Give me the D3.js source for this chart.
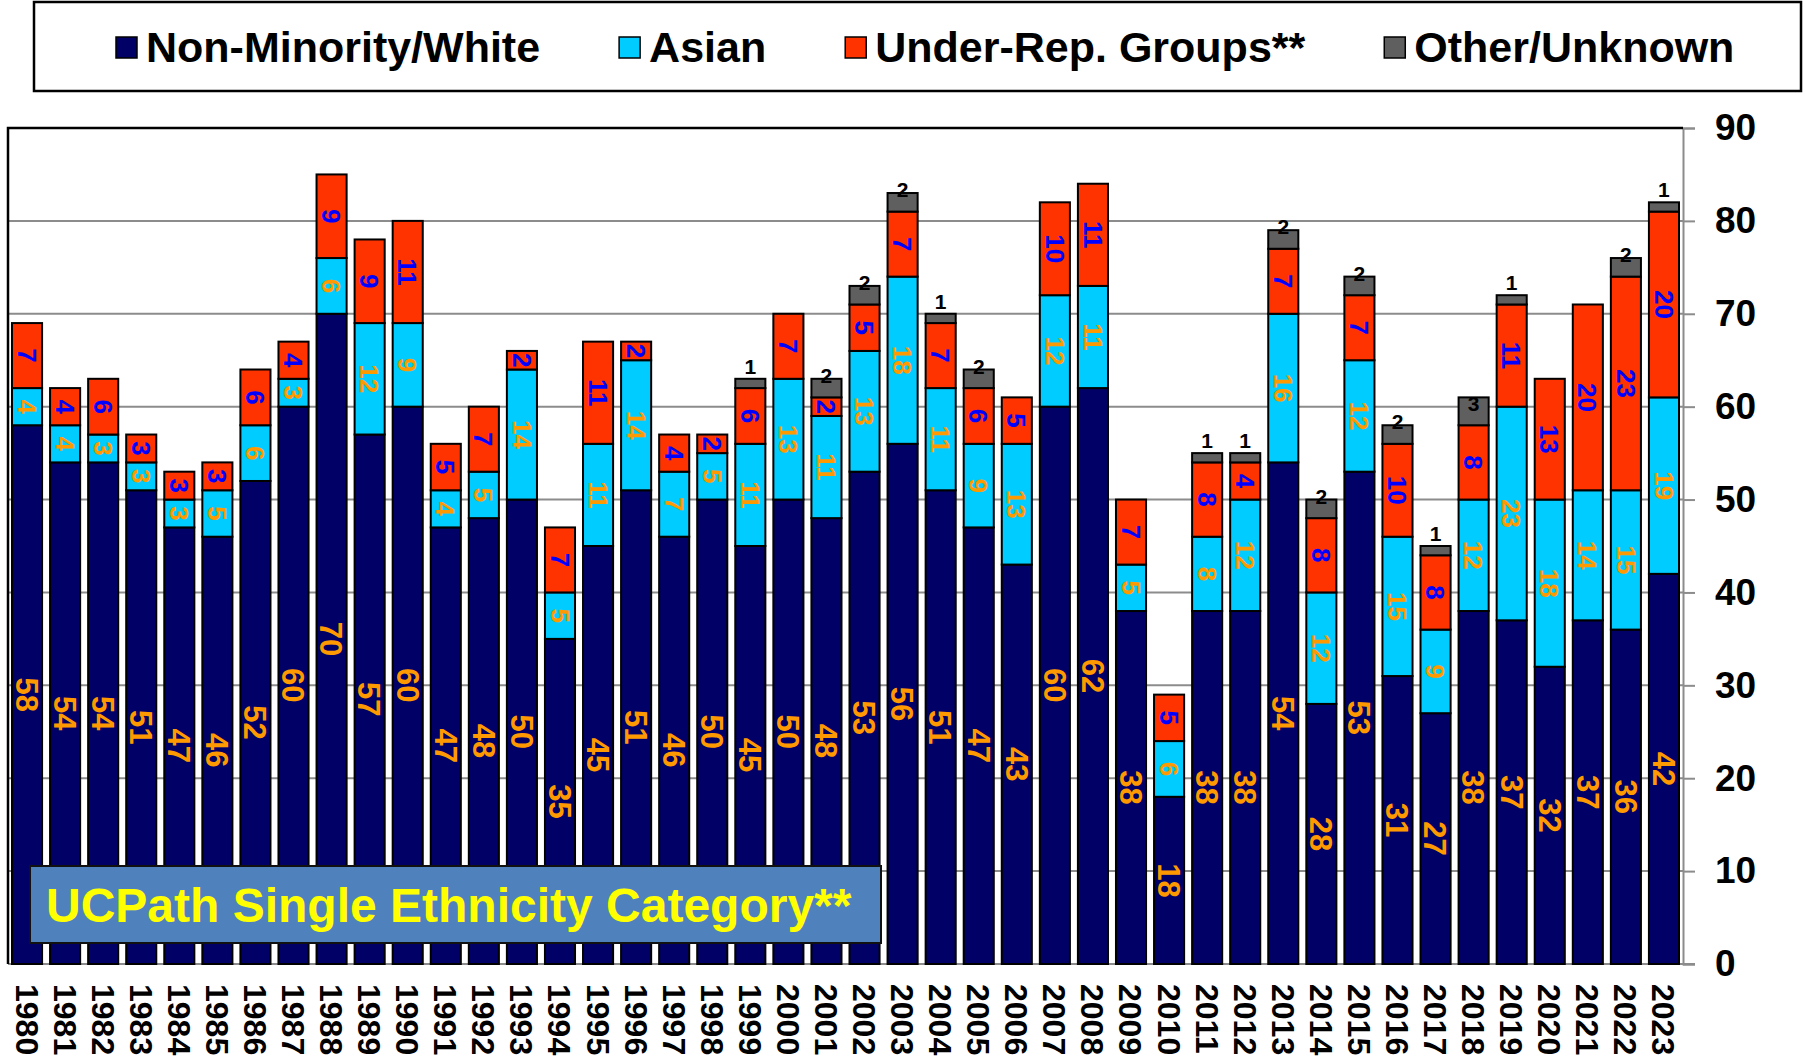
<!DOCTYPE html>
<html>
<head>
<meta charset="utf-8">
<title>UCPath Single Ethnicity Category</title>
<script src="https://cdn.jsdelivr.net/npm/d3@7"></script>
<style>
	body { margin: 0; background: #fff; }
	svg { display: block; font-family: "Liberation Sans", Arial, sans-serif; font-weight: bold; }
</style>
</head>
<body>
<svg id="chart" width="1806" height="1063"></svg>
<script>
// --- DATA --- //
var years = ["1980","1981","1982","1983","1984","1985","1986","1987","1988","1989",
	"1990","1991","1992","1993","1994","1995","1996","1997","1998","1999",
	"2000","2001","2002","2003","2004","2005","2006","2007","2008","2009",
	"2010","2011","2012","2013","2014","2015","2016","2017","2018","2019",
	"2020","2021","2022","2023"];

var white = [58,54,54,51,47,46,52,60,70,57, 60,47,48,50,35,45,51,46,50,45,
	50,48,53,56,51,47,43,60,62,38, 18,38,38,54,28,53,31,27,38,37, 32,37,36,42];
var asian = [4,4,3,3,3,5,6,3,6,12, 9,4,5,14,5,11,14,7,5,11,
	13,11,13,18,11,9,13,12,11,5, 6,8,12,16,12,12,15,9,12,23, 18,14,15,19];
var urg = [7,4,6,3,3,3,6,4,9,9, 11,5,7,2,7,11,2,4,2,6,
	7,2,5,7,7,6,5,10,11,7, 5,8,4,7,8,7,10,8,8,11, 13,20,23,20];
var other = [0,0,0,0,0,0,0,0,0,0, 0,0,0,0,0,0,0,0,0,1,
	0,2,2,2,1,2,0,0,0,0, 0,1,1,2,2,2,2,1,3,1, 0,0,2,1];

var seriesNames = ["Non-Minority/White", "Asian", "Under-Rep. Groups**", "Other/Unknown"];
var yTicks = [0,10,20,30,40,50,60,70,80,90];
var title = "UCPath Single Ethnicity Category**";

// --- STYLE --- //
var fills = ["#000066", "#00CCFF", "#FF3300", "#5F5F5F"],
	labelColors = ["#FF9900", "#FF9900", "#0000FF", "#000000"],
	labelSizes = [31, 26, 26, 21];

var svg = d3.select("#chart"),
	plot = {left: 8, right: 1683, top: 128, bottom: 964};

var x = d3.scaleBand()
	.domain(years)
	.range([plot.left, plot.right])
	.paddingInner(0.21)
	.paddingOuter(0.105);

var y = d3.scaleLinear()
	.domain([0, 90])
	.range([plot.bottom, plot.top]);

// build rows for the stack
var rows = years.map(function(yr, i) {
	return {year: yr, s0: white[i], s1: asian[i], s2: urg[i], s3: other[i]};
});
var stack = d3.stack().keys(["s0","s1","s2","s3"])(rows);

// --- GRID --- //
svg.append("g")
	.selectAll("line")
	.data(yTicks.filter(function(d) { return d > 0 && d < 90; }))
	.enter().append("line")
	.attr("x1", plot.left).attr("x2", plot.right)
	.attr("y1", function(d) { return y(d); })
	.attr("y2", function(d) { return y(d); })
	.attr("stroke", "#8c8c8c")
	.attr("stroke-width", 2);

// --- AXIS (right side) --- //
var axis = svg.append("g")
	.attr("transform", "translate(" + plot.right + ",0)")
	.call(d3.axisRight(y).tickValues(yTicks).tickSize(12).tickPadding(20));
axis.select(".domain").attr("stroke", "#8c8c8c").attr("stroke-width", 2);
axis.selectAll(".tick line").attr("stroke", "#8c8c8c").attr("stroke-width", 2);
axis.selectAll(".tick text")
	.attr("fill", "#000")
	.style("font-size", "37px")
	.style("font-family", "'Liberation Sans', Arial, sans-serif")
	.style("font-weight", "bold");

// bottom axis line
svg.append("line")
	.attr("x1", plot.left).attr("x2", plot.right + 12)
	.attr("y1", plot.bottom).attr("y2", plot.bottom)
	.attr("stroke", "#8c8c8c")
	.attr("stroke-width", 2);

// top & left frame
svg.append("path")
	.attr("d", "M" + plot.left + "," + plot.bottom + "V" + plot.top + "H" + plot.right)
	.attr("fill", "none")
	.attr("stroke", "#000")
	.attr("stroke-width", 2.5);

// --- BARS --- //
var layer = svg.append("g").selectAll("g")
	.data(stack)
	.enter().append("g")
	.attr("fill", function(d, i) { return fills[i]; });

layer.selectAll("rect")
	.data(function(d) { return d.filter(function(p) { return p[1] - p[0] > 0; }); })
	.enter().append("rect")
	.attr("x", function(d) { return x(d.data.year); })
	.attr("width", x.bandwidth())
	.attr("y", function(d) { return y(d[1]); })
	.attr("height", function(d) { return y(d[0]) - y(d[1]); })
	.attr("stroke", "#000")
	.attr("stroke-width", 2);

// --- VALUE LABELS --- //
stack.forEach(function(series, si) {
	var pts = series.filter(function(p) { return p[1] - p[0] > 0; });
	var g = svg.append("g");
	if (si < 3) {
		// rotated labels, centred in their segment
		g.selectAll("text")
			.data(pts)
			.enter().append("text")
			.attr("transform", function(d) {
				var cx = x(d.data.year) + x.bandwidth() / 2,
					cy = y((d[0] + d[1]) / 2);
				return "translate(" + cx + "," + cy + ") rotate(90)";
			})
			.attr("text-anchor", "middle")
			.attr("dy", "0.36em")
			.attr("fill", labelColors[si])
			.style("font-size", labelSizes[si] + "px")
			.text(function(d) { return d[1] - d[0]; });
	} else {
		// other/unknown sits above the bar
		g.selectAll("text")
			.data(pts)
			.enter().append("text")
			.attr("x", function(d) { return x(d.data.year) + x.bandwidth() / 2; })
			.attr("y", function(d) { return y(d[0]) - 22; })
			.attr("text-anchor", "middle")
			.attr("dy", "0.36em")
			.attr("fill", labelColors[si])
			.style("font-size", labelSizes[si] + "px")
			.text(function(d) { return d[1] - d[0]; });
	}
});

// --- YEAR LABELS --- //
svg.append("g")
	.selectAll("text")
	.data(years)
	.enter().append("text")
	.attr("transform", function(d) {
		return "translate(" + (x(d) + x.bandwidth() / 2) + "," + (plot.bottom + 20) + ") rotate(90)";
	})
	.attr("text-anchor", "start")
	.attr("dy", "0.36em")
	.attr("fill", "#000")
	.style("font-size", "32px")
	.text(function(d) { return d; });

// --- TITLE BOX --- //
var titleG = svg.append("g");
titleG.append("rect")
	.attr("x", 30).attr("y", 866)
	.attr("width", 851).attr("height", 77)
	.attr("fill", "#4F81BD")
	.attr("stroke", "#111")
	.attr("stroke-width", 2);
titleG.append("text")
	.attr("x", 46).attr("y", 922)
	.attr("fill", "#FFFF00")
	.style("font-size", "48px")
	.text(title);

// --- LEGEND --- //
svg.append("rect")
	.attr("x", 34).attr("y", 2)
	.attr("width", 1767).attr("height", 89)
	.attr("fill", "#fff")
	.attr("stroke", "#000")
	.attr("stroke-width", 2.5);

var legendX = 116;
seriesNames.forEach(function(name, i) {
	var item = svg.append("g").attr("transform", "translate(" + legendX + ",0)");
	item.append("rect")
		.attr("x", 0).attr("y", 37)
		.attr("width", 21).attr("height", 21)
		.attr("fill", fills[i])
		.attr("stroke", "#000")
		.attr("stroke-width", 1.5);
	var t = item.append("text")
		.attr("x", 30).attr("y", 62)
		.attr("fill", "#000")
		.style("font-size", "43px")
		.text(name);
	legendX += 30 + t.node().getComputedTextLength() + 79;
});
</script>
</body>
</html>
